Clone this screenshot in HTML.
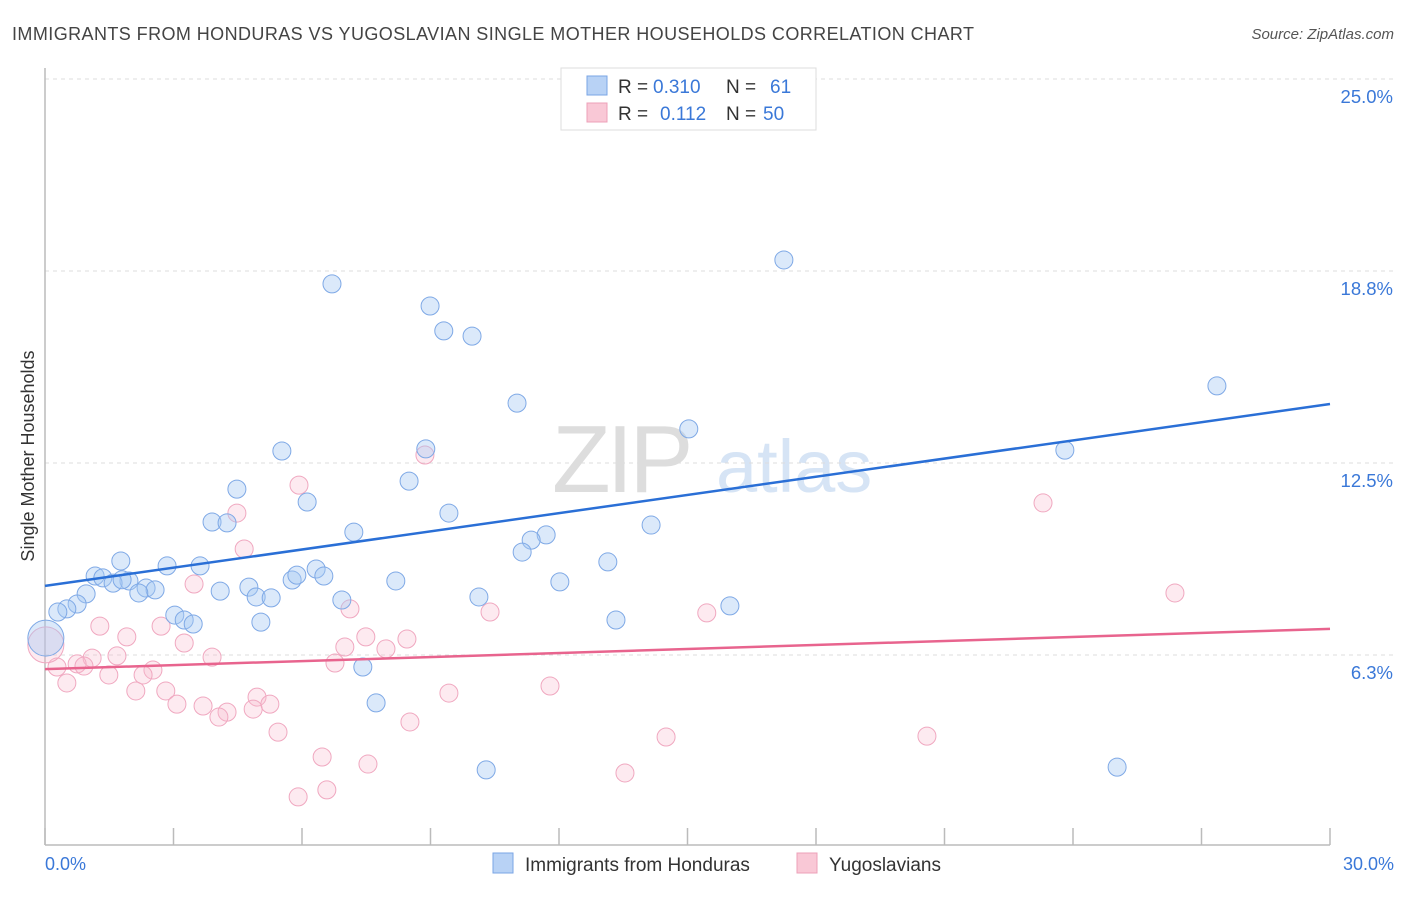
<!DOCTYPE html>
<html><head><meta charset="utf-8"><style>
body{margin:0;background:#fff;font-family:"Liberation Sans",sans-serif;}
svg text{font-family:"Liberation Sans",sans-serif;}
</style></head><body>
<svg id="chart" width="1406" height="892" xmlns="http://www.w3.org/2000/svg">
<text x="12" y="40" font-size="18" fill="#444" textLength="962">IMMIGRANTS FROM HONDURAS VS YUGOSLAVIAN SINGLE MOTHER HOUSEHOLDS CORRELATION CHART</text>
<text x="1394" y="39" font-size="15" fill="#555" text-anchor="end" font-style="italic">Source: ZipAtlas.com</text>
<g><text x="552" y="492" font-size="96" fill="#ddd" font-family="Liberation Serif" letter-spacing="-4">ZIP</text><text x="716" y="492" font-size="74" fill="#d6e4f5">atlas</text></g>
<g id="grid"></g>
<line x1="45" y1="68" x2="45" y2="845" stroke="#bbb" stroke-width="1.5"/>
<line x1="45" y1="845" x2="1330" y2="845" stroke="#bbb" stroke-width="1.5"/>
<text transform="translate(34,456) rotate(-90)" font-size="18" fill="#333" text-anchor="middle">Single Mother Households</text>
<text x="45" y="870" font-size="18" fill="#3a78d8">0.0%</text>
<text x="1394" y="870" font-size="18" fill="#3a78d8" text-anchor="end">30.0%</text>
<g id="pts"></g>
<g>
<rect x="561" y="68" width="255" height="62" fill="#fff" stroke="#ddd"/>
<rect x="587" y="76" width="20" height="19" fill="#b8d2f5" stroke="#7aa5e5"/>
<rect x="587" y="103" width="20" height="19" fill="#f9c8d6" stroke="#eda0b8"/>
<text x="618" y="93" font-size="19" fill="#333">R =</text>
<text x="653" y="93" font-size="19" fill="#3a78d8">0.310</text>
<text x="726" y="93" font-size="19" fill="#333">N =</text>
<text x="770" y="93" font-size="19" fill="#3a78d8">61</text>
<text x="618" y="120" font-size="19" fill="#333">R =</text>
<text x="660" y="120" font-size="19" fill="#3a78d8">0.112</text>
<text x="726" y="120" font-size="19" fill="#333">N =</text>
<text x="763" y="120" font-size="19" fill="#3a78d8">50</text>
</g>
<g>
<rect x="493" y="853" width="20" height="20" fill="#b8d2f5" stroke="#7aa5e5"/>
<text x="525" y="871" font-size="19" fill="#333">Immigrants from Honduras</text>
<rect x="797" y="853" width="20" height="20" fill="#f9c8d6" stroke="#eda0b8"/>
<text x="829" y="871" font-size="19" fill="#333">Yugoslavians</text>
</g>
</svg>
<script>
const yTicks=[25,18.75,12.5,6.25];
const yTickLabels=["25.0%","18.8%","12.5%","6.3%"];
const xTicks=[0,3,6,9,12,15,18,21,24,27,30];
const blueX=[17.25,6.70,8.99,9.31,9.97,11.02,27.36,15.03,8.89,23.81,5.53,8.50,4.48,6.12,9.43,3.90,4.25,14.15,7.21,11.70,11.35,11.14,1.77,2.85,3.62,13.14,6.33,1.17,1.35,1.96,6.51,5.77,1.59,8.19,12.02,4.76,2.36,2.57,2.19,4.09,0.96,4.93,5.28,6.93,10.13,0.75,0.51,0.30,15.99,3.03,3.25,3.46,13.33,5.04,0.02,7.42,7.73,10.30,25.03,5.88,1.80];
const blueY=[19.11,18.33,17.61,16.80,16.63,14.45,15.01,13.61,12.96,12.92,12.89,11.91,11.65,11.23,10.87,10.58,10.55,10.48,10.25,10.16,9.99,9.60,9.31,9.15,9.15,9.28,9.05,8.82,8.76,8.66,8.82,8.69,8.59,8.66,8.63,8.46,8.43,8.37,8.27,8.33,8.24,8.14,8.11,8.04,8.14,7.91,7.75,7.65,7.85,7.55,7.39,7.26,7.39,7.32,6.80,5.86,4.69,2.51,2.60,8.85,8.70];
const pinkX=[5.93,4.48,8.87,23.30,4.65,3.48,26.38,7.12,10.39,15.45,1.28,2.71,1.91,7.49,8.45,3.25,7.00,7.96,1.68,1.10,3.90,0.28,0.75,0.91,1.49,2.52,2.29,6.77,0.51,11.79,2.82,2.12,9.43,4.95,3.08,3.69,5.25,4.86,4.25,4.06,8.52,5.44,14.50,20.59,6.47,7.54,13.54,6.58,5.91,0.02];
const pinkY=[11.78,10.87,12.76,11.20,9.70,8.56,8.27,7.75,7.65,7.62,7.19,7.19,6.84,6.84,6.77,6.64,6.51,6.45,6.22,6.15,6.18,5.86,5.96,5.89,5.60,5.76,5.60,5.99,5.34,5.24,5.08,5.08,5.01,4.88,4.65,4.59,4.65,4.49,4.39,4.23,4.07,3.74,3.58,3.61,2.93,2.70,2.41,1.86,1.63,6.58];
const blueTrend=[8.50,14.42];
const pinkTrend=[5.79,7.10];
const sx=v=>45+v/30*1285;
const sy=v=>847-v/6.25*192;
const NS="http://www.w3.org/2000/svg";
const grid=document.getElementById('grid'),pts=document.getElementById('pts');
function mk(tag,attrs,parent){const e=document.createElementNS(NS,tag);for(const k in attrs)e.setAttribute(k,attrs[k]);parent.appendChild(e);return e;}
yTicks.forEach((t,i)=>{
 const l=mk('line',{x1:45,x2:1394,y1:sy(t),y2:sy(t),stroke:'#ddd','stroke-dasharray':'4,4'},grid);
 
 
 const tx=mk('text',{x:1393,y:sy(t)+24,'font-size':18.5,fill:'#3a78d8','text-anchor':'end'},grid);
 tx.textContent=yTickLabels[i];
 
 
});
xTicks.forEach(t=>{
 const l=mk('line',{x1:sx(t),x2:sx(t),y1:828,y2:845,stroke:'#bbb','stroke-width':1.5},grid);
 
 
});
function dots(X,Y,fill,stroke,name){
 X.forEach((x,i)=>{
  const r=(x<0.1)?18:9;
  const c=mk('circle',{cx:sx(x),cy:sy(Y[i]),r:r,fill:fill,stroke:stroke,'stroke-width':1},pts);
  
  
 });
}
dots(pinkX,pinkY,'rgba(248,185,205,0.3)','#f0a8c0','yugoslavians-point');
dots(blueX,blueY,'rgba(165,200,242,0.4)','#7fa9e6','honduras-point');
const bl=mk('line',{x1:sx(0),y1:sy(blueTrend[0]),x2:sx(30),y2:sy(blueTrend[1]),stroke:'#2a6fd6','stroke-width':2.5},pts);


const pl=mk('line',{x1:sx(0),y1:sy(pinkTrend[0]),x2:sx(30),y2:sy(pinkTrend[1]),stroke:'#e8648e','stroke-width':2.5},pts);


</script>
</body></html>
